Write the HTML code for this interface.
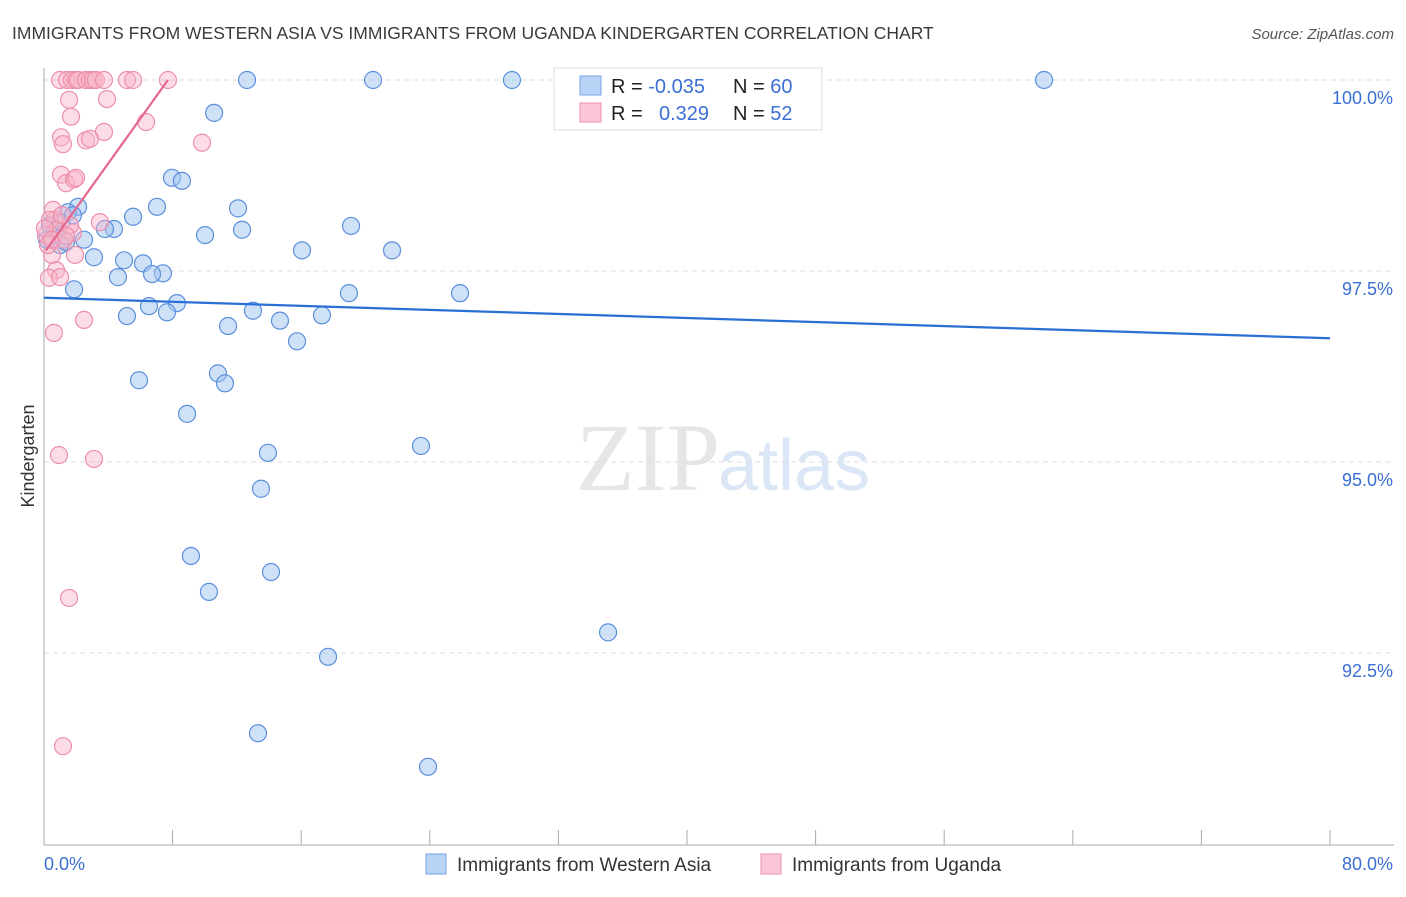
<!DOCTYPE html>
<html><head><meta charset="utf-8"><style>
body{margin:0;background:#fff;font-family:"Liberation Sans",sans-serif;}
</style></head><body>
<svg width="1406" height="892" xmlns="http://www.w3.org/2000/svg" id="chart" style="font-family:'Liberation Sans',sans-serif">
<text x="12" y="39" font-size="17.5" fill="#3a3a3a">IMMIGRANTS FROM WESTERN ASIA VS IMMIGRANTS FROM UGANDA KINDERGARTEN CORRELATION CHART</text>
<text x="1394" y="39" font-size="15" fill="#555" font-style="italic" text-anchor="end">Source: ZipAtlas.com</text>
<text x="720" y="490" font-size="96" fill="#e6e6e6" font-family="Liberation Serif,serif" text-anchor="end">ZIP</text>
<text x="718" y="490" font-size="72" fill="#dbe6f6">atlas</text>
<g id="grid"></g>
<g id="axes"></g>
<g id="pts"></g>
<g id="lines"></g>
<text transform="translate(34,456) rotate(-90)" font-size="18" fill="#333" text-anchor="middle">Kindergarten</text>
<text x="44" y="870" font-size="18" fill="#3b6fd4">0.0%</text>
<text x="1393" y="870" font-size="18" fill="#3b6fd4" text-anchor="end">80.0%</text>
<g>
<rect x="554" y="68" width="268" height="62" fill="#fff" stroke="#ddd"/>
<rect x="580" y="76" width="21" height="19" fill="#b8d3f5" stroke="#7aa6e6"/>
<rect x="580" y="103" width="21" height="19" fill="#fbc7d6" stroke="#ee92ae"/>
<text x="611" y="93" font-size="20" fill="#222">R = <tspan fill="#3b6fd4">-0.035</tspan></text>
<text x="733" y="93" font-size="20" fill="#222">N = <tspan fill="#3b6fd4">60</tspan></text>
<text x="611" y="120" font-size="20" fill="#222">R = <tspan fill="#3b6fd4" x="659">0.329</tspan></text>
<text x="733" y="120" font-size="20" fill="#222">N = <tspan fill="#3b6fd4">52</tspan></text>
</g>
<g>
<rect x="426" y="854" width="20" height="20" fill="#b8d3f5" stroke="#7aa6e6"/>
<text x="457" y="871" font-size="19" fill="#333">Immigrants from Western Asia</text></g>
<g>
<rect x="761" y="854" width="20" height="20" fill="#fbc7d6" stroke="#ee92ae"/>
<text x="792" y="871" font-size="19" fill="#333">Immigrants from Uganda</text></g>
</svg>
<script>
const blueX=[12.63,20.47,29.11,42.36,62.21,10.58,7.96,8.58,7.03,12.07,2.12,5.54,19.10,12.32,4.35,3.79,1.49,10.02,2.49,1.0,16.05,21.65,3.11,4.98,6.16,7.40,6.72,4.60,1.87,18.97,25.88,8.27,6.53,13.0,5.16,7.65,17.29,14.68,11.45,15.74,5.91,10.82,11.26,8.90,23.45,13.93,13.50,9.14,14.12,10.26,35.09,17.67,13.31,23.89,1.37,0.68,0.37,0.19,1.06,1.80];
const blueY=[100,100,100,100,100,99.57,98.72,98.68,98.34,98.32,98.34,98.21,98.09,98.04,98.05,98.05,98.27,97.97,97.91,97.84,97.77,97.77,97.68,97.64,97.60,97.47,97.46,97.42,97.26,97.21,97.21,97.08,97.04,96.98,96.91,96.96,96.92,96.85,96.78,96.58,96.07,96.16,96.03,95.63,95.21,95.12,94.65,93.77,93.56,93.30,92.77,92.45,91.45,91.01,97.88,98.04,98.10,97.91,98.14,98.23];
const pinkX=[1.0,1.43,1.74,1.99,2.12,2.61,2.86,3.05,3.23,3.73,5.16,5.54,7.71,1.56,1.68,3.92,3.73,6.35,9.83,1.06,1.18,2.61,2.86,1.06,1.37,1.87,1.99,0.56,0.68,3.48,0.12,1.80,1.93,0.50,0.75,0.31,1.0,2.49,0.62,0.93,3.11,1.56,1.18,0.37,0.87,1.24,1.62,0.25,0.06,1.12,0.5,1.37];
const pinkY=[100,100,100,100,100,100,100,100,100,100,100,100,100,99.74,99.52,99.75,99.32,99.45,99.18,99.25,99.16,99.21,99.23,98.76,98.65,98.70,98.72,98.30,98.17,98.14,97.97,98.0,97.71,97.71,97.51,97.41,97.42,96.86,96.69,95.09,95.04,93.22,91.28,98.17,98.04,97.91,98.10,97.84,98.06,98.23,97.91,97.96];
const blueLineX=[0,80], blueLineY=[97.15,96.62];
const pinkLineX=[0.125,7.71], pinkLineY=[97.77,100];
const yTicks=[100,97.5,95,92.5];
const yTickLabels=["100.0%","97.5%","95.0%","92.5%"];
const xTicks=[0,8,16,24,32,40,48,56,64,72,80];
const NS="http://www.w3.org/2000/svg";
const sx=v=>44+v*16.075, sy=v=>80+(100-v)*76.4;
function mk(tag,attrs,parent){const e=document.createElementNS(NS,tag);for(const k in attrs)e.setAttribute(k,attrs[k]);document.getElementById(parent).appendChild(e);return e;}
yTicks.forEach((t,i)=>{
  const l=mk('line',{x1:44,x2:1394,y1:sy(t),y2:sy(t),stroke:'#ddd','stroke-dasharray':'5,4'},'grid');
  
  
  const tx=mk('text',{x:1393,y:sy(t)+24,'font-size':18,fill:'#3b6fd4','text-anchor':'end'},'grid');
  tx.textContent=yTickLabels[i];
  
  
});
const ax=mk('line',{x1:44,x2:44,y1:68,y2:845,stroke:'#aaa'},'axes');


const bx=mk('line',{x1:44,x2:1394,y1:845,y2:845,stroke:'#aaa'},'axes');


xTicks.forEach(t=>{
  const l=mk('line',{x1:sx(t),x2:sx(t),y1:830,y2:845,stroke:'#aaa'},'axes');
  
  
});
blueX.forEach((x,i)=>{
  const c=mk('circle',{cx:sx(x),cy:sy(blueY[i]),r:8.5,fill:'rgba(160,196,240,0.5)',stroke:'#5b8fdc','stroke-width':1.2},'pts');
  
  
});
pinkX.forEach((x,i)=>{
  const c=mk('circle',{cx:sx(x),cy:sy(pinkY[i]),r:8.5,fill:'rgba(248,180,200,0.45)',stroke:'#ec8fab','stroke-width':1.2},'pts');
  
  
});
const bl=mk('line',{x1:sx(blueLineX[0]),y1:sy(blueLineY[0]),x2:sx(blueLineX[1]),y2:sy(blueLineY[1]),stroke:'#2a6fd6','stroke-width':2.2},'lines');


const pl=mk('line',{x1:sx(pinkLineX[0]),y1:sy(pinkLineY[0]),x2:sx(pinkLineX[1]),y2:sy(pinkLineY[1]),stroke:'#e4678e','stroke-width':2.2},'lines');


</script>
</body></html>
